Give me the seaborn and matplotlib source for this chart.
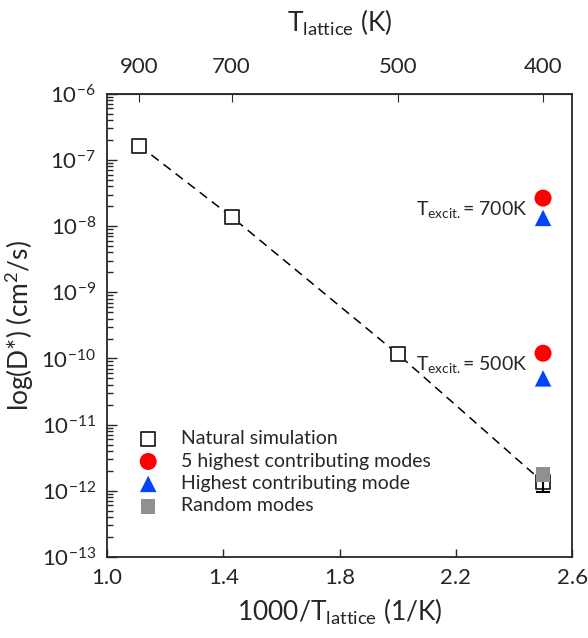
import numpy as np
import pandas as pd
import matplotlib
matplotlib.use('Agg')
import matplotlib.pyplot as plt
import seaborn as sns

# data
t_lattice = [900, 700, 500, 400]
d_natural = [1.65e-7, 1.38e-8, 1.17e-10, 1.35e-12]

t_modes = [400, 400]
d_five_modes = [2.65e-8, 1.2e-10]
d_one_mode = [1.33e-8, 5.0e-11]
excit_labels = ['700K', '500K']

t_random = [400]
d_random = [1.75e-12]
d_random_low = [0.95e-12]

top_ticks = [900, 700, 500, 400]

sns.set_style('ticks')
plt.rcParams['font.family'] = ['Lato', 'DejaVu Sans']
plt.rcParams['mathtext.fontset'] = 'custom'
plt.rcParams['mathtext.rm'] = 'Lato'
plt.rcParams['mathtext.it'] = 'Lato'

nat = pd.DataFrame({'x': [1000 / t for t in t_lattice], 'D': d_natural})
five = pd.DataFrame({'x': [1000 / t for t in t_modes], 'D': d_five_modes})
one = pd.DataFrame({'x': [1000 / t for t in t_modes], 'D': d_one_mode})
rnd = pd.DataFrame({'x': [1000 / t for t in t_random], 'D': d_random})

fig = plt.figure(figsize=(5.88, 6.38), dpi=100)
ax = fig.add_axes([0.182, 0.127, 0.791, 0.726])

sns.lineplot(data=nat, x='x', y='D', ax=ax, color='black', lw=1.1,
             linestyle=(0, (6, 4)), zorder=1)

sns.scatterplot(data=nat, x='x', y='D', ax=ax, marker='s', s=110,
                facecolor='white', edgecolor='#222222', linewidth=1.3,
                label='Natural simulation', zorder=3)
sns.scatterplot(data=five, x='x', y='D', ax=ax, marker='o', s=150,
                color='#ff0000', edgecolor='none', label='5 highest contributing modes', zorder=4)
sns.scatterplot(data=one, x='x', y='D', ax=ax, marker='^', s=140,
                color='#0044ff', edgecolor='none', label='Highest contributing mode', zorder=4)
sns.scatterplot(data=rnd, x='x', y='D', ax=ax, marker='s', s=110,
                color='#909090', edgecolor='none', label='Random modes', zorder=5)

# error bar on random-mode point
ax.errorbar(rnd['x'], rnd['D'],
            yerr=[[d_random[0] - d_random_low[0]], [0]],
            fmt='none', ecolor='black', capsize=5, capthick=1.5, lw=1.5, zorder=4)

for lab, d in zip(excit_labels, d_five_modes):
    ax.text(2.445, d * 0.68, r'T$_{\mathrm{excit.}}$= ' + lab, ha='right', va='center',
            fontsize=14)

ax.set_yscale('log')
ax.set_ylim(1e-13, 1e-6)
ax.set_xlim(1.0, 2.6)
ax.set_xticks([1.0, 1.4, 1.8, 2.2, 2.6])
ax.set_xticklabels(['1.0', '1.4', '1.8', '2.2', '2.6'])
ax.set_yticks([10.0 ** e for e in range(-13, -5)])
ax.set_yticklabels([r'10$^{%d}$' % e for e in range(-13, -5)])
ax.tick_params(axis='both', which='both', direction='in', labelsize=16)
ax.tick_params(axis='y', which='major', length=7, width=1, pad=8)
ax.tick_params(axis='y', which='minor', length=4, width=1)
ax.tick_params(axis='x', which='major', length=6, width=1, pad=8)
ax.set_xlabel(r'1000/T$_{\mathrm{lattice}}$ (1/K)', fontsize=19, labelpad=6)
ax.set_ylabel(r'log(D*) (cm$^2$/s)', fontsize=19, labelpad=4)
for sp in ax.spines.values():
    sp.set_linewidth(1.3)

top = ax.secondary_xaxis('top', functions=(lambda x: x, lambda x: x))
top.set_xticks([1000 / t for t in top_ticks])
top.set_xticklabels([str(t) for t in top_ticks])
top.tick_params(direction='in', length=6, labelsize=16, pad=12)
top.set_xlabel(r'T$_{\mathrm{lattice}}$ (K)', fontsize=19, labelpad=18)

leg = ax.legend(loc='lower left', bbox_to_anchor=(0.03, 0.075), frameon=False,
                fontsize=14, handletextpad=0.7, labelspacing=0.28, borderaxespad=0)

fig.savefig('out.png', dpi=100)
